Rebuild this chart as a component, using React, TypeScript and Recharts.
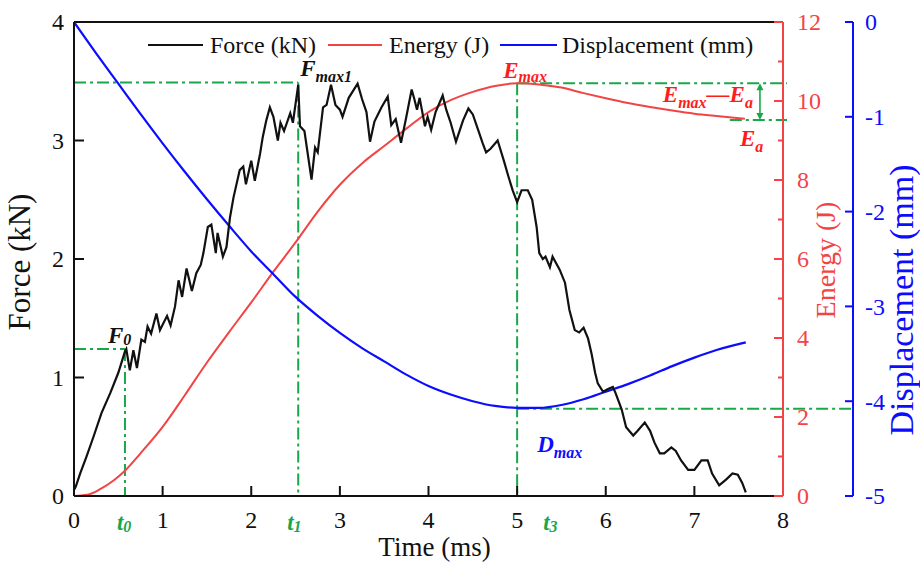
import React from 'react';
import { LineChart, Line, XAxis, YAxis, ReferenceLine, ReferenceDot, Legend } from 'recharts';

// ---------- data ----------
const timeForce = [
  0, 0.02, 0.07, 0.14, 0.22, 0.31, 0.41, 0.5, 0.575, 0.59,
  0.63, 0.67, 0.71, 0.76, 0.8, 0.83, 0.87, 0.93, 0.97, 1.05,
  1.09, 1.14, 1.18, 1.22, 1.27, 1.33, 1.38, 1.43, 1.46, 1.51,
  1.55, 1.6, 1.62, 1.68, 1.72, 1.76, 1.8, 1.87, 1.91, 1.94,
  2.0, 2.04, 2.1, 2.13, 2.17, 2.21, 2.25, 2.3, 2.33, 2.37,
  2.44, 2.47, 2.53, 2.55, 2.6, 2.68, 2.72, 2.75, 2.81, 2.85,
  2.9, 2.95, 3.0, 3.03, 3.1, 3.2, 3.25, 3.3, 3.34, 3.39,
  3.47, 3.54, 3.58, 3.63, 3.69, 3.75, 3.81, 3.84, 3.87, 3.9,
  3.96, 3.99, 4.03, 4.08, 4.16, 4.2, 4.25, 4.31, 4.39, 4.45,
  4.5, 4.56, 4.61, 4.65, 4.7, 4.78, 4.85, 4.9, 4.95, 5.0,
  5.05, 5.12, 5.17, 5.22, 5.25, 5.29, 5.32, 5.37, 5.4, 5.48,
  5.54, 5.59, 5.65, 5.7, 5.75, 5.8, 5.84, 5.88, 5.91, 5.97,
  6.02, 6.08, 6.11, 6.18, 6.23, 6.31, 6.36, 6.44, 6.5, 6.55,
  6.61, 6.66, 6.74, 6.79, 6.85, 6.93, 7.0, 7.08, 7.15, 7.2,
  7.28, 7.36, 7.43, 7.49, 7.54, 7.58,
];
const forceKN = [
  0.05, 0.08, 0.19, 0.33, 0.5, 0.7, 0.87, 1.04, 1.22, 1.24,
  1.06, 1.23, 1.08, 1.32, 1.3, 1.43, 1.37, 1.54, 1.4, 1.52,
  1.44, 1.6, 1.82, 1.68, 1.92, 1.73, 1.88, 1.95, 2.05, 2.27,
  2.29, 2.05, 2.22, 2.02, 2.1, 2.35, 2.52, 2.75, 2.78, 2.63,
  2.83, 2.66, 2.89, 3.03, 3.17, 3.28, 3.2, 3.0, 3.15, 3.08,
  3.23, 3.15, 3.47, 3.12, 3.08, 2.67, 2.94, 2.9, 3.28, 3.3,
  3.47, 3.3, 3.26, 3.2, 3.36, 3.48, 3.35, 3.24, 2.99, 3.16,
  3.28, 3.37, 3.13, 3.18, 2.98, 3.2, 3.43, 3.35, 3.26, 3.36,
  3.12, 3.2, 3.09, 3.24, 3.38, 3.26, 3.15, 2.99, 3.17, 3.27,
  3.22, 3.09, 2.98, 2.9, 2.93, 3.0, 2.83, 2.7, 2.58, 2.48,
  2.58, 2.58, 2.5, 2.27, 2.05, 2.0, 2.02, 1.93, 2.02, 1.91,
  1.8, 1.57, 1.4, 1.38, 1.42, 1.33, 1.2, 1.04, 0.95, 0.88,
  0.9, 0.92, 0.87, 0.73, 0.58, 0.51, 0.55, 0.62, 0.55, 0.45,
  0.36, 0.36, 0.41, 0.38, 0.3, 0.22, 0.22, 0.3, 0.3, 0.19,
  0.09, 0.14, 0.19, 0.18, 0.11, 0.03,
];

const timeEnergy = [0, 0.15, 0.3, 0.45, 0.575, 0.75, 1.0, 1.25, 1.5, 1.75, 2.0, 2.25, 2.5, 2.75, 3.0, 3.25, 3.5, 3.75, 4.0, 4.25, 4.5, 4.75, 5.0, 5.25, 5.5, 5.75, 6.0, 6.25, 6.5, 6.75, 7.0, 7.25, 7.57];
const energyJ = [0, 0.03, 0.18, 0.4, 0.64, 1.08, 1.75, 2.55, 3.38, 4.15, 4.9, 5.68, 6.42, 7.2, 7.88, 8.42, 8.86, 9.3, 9.72, 10.02, 10.23, 10.38, 10.45, 10.42, 10.34, 10.2, 10.07, 9.95, 9.85, 9.76, 9.68, 9.62, 9.55];

const timeDisp = [0, 0.25, 0.5, 0.75, 1.0, 1.25, 1.5, 1.75, 2.0, 2.25, 2.5, 2.75, 3.0, 3.25, 3.5, 3.75, 4.0, 4.25, 4.5, 4.75, 5.0, 5.25, 5.5, 5.75, 6.0, 6.25, 6.5, 6.75, 7.0, 7.25, 7.58];
const dispMM = [0, -0.33, -0.65, -0.97, -1.28, -1.58, -1.87, -2.15, -2.42, -2.66, -2.9, -3.1, -3.28, -3.44, -3.58, -3.72, -3.84, -3.93, -4.0, -4.05, -4.07, -4.07, -4.04, -3.98, -3.9, -3.82, -3.73, -3.63, -3.54, -3.46, -3.38];

const seriesNames = ['Force (kN)', 'Energy (J)', 'Displacement (mm)'];
const timeTicks = [0, 1, 2, 3, 4, 5, 6, 7, 8];
const forceTicks = [0, 1, 2, 3, 4];
const energyTicks = [0, 1, 2, 3, 4, 5, 6, 7, 8, 9, 10, 11, 12];
const dispTicks = [-5, -4, -3, -2, -1, 0];

// key characteristic values
const tF0 = 0.575;
const F0 = 1.24;
const tFmax1 = 2.53;
const Fmax1 = 3.49;
const tEmax = 5.0;
const Emax = 10.45;
const Ea = 9.52;
const Dmax = -4.08;
const tArrow = 7.74;
const tEaStart = 7.4;

const forceData = timeForce.map((t, i) => ({ t, v: forceKN[i] }));
const energyData = timeEnergy.map((t, i) => ({ t, v: energyJ[i] }));
const dispData = timeDisp.map((t, i) => ({ t, v: dispMM[i] }));

// axis ids (energy axis sits next to the plot, displacement outside it)
const AX_F = 'force';
const AX_E = 'axisA_energy';
const AX_D = 'axisB_disp';

// ---------- styles ----------
const SERIF = '"Liberation Serif", "Times New Roman", Times, serif';
const BLACK = '#111111';
const RED = '#f24444';
const RED_TEXT = '#ff1c1c';
const BLUE = '#0c0cff';
const GREEN = '#18a84a';
const DASH = '12 4 3 4';

const W = 920;
const H = 568;
const M = { top: 22, right: 7, bottom: 12, left: 0 };
const Y_FORCE_W = 74;
const Y_ENERGY_W = 70;
const Y_DISP_W = 60;
const X_H = 60;
const PLOT_L = M.left + Y_FORCE_W;
const PLOT_R = W - M.right - Y_DISP_W - Y_ENERGY_W;
const PLOT_B = H - M.bottom - X_H;

const TM_L = 10;
const TM_B = 15;
const TM_E = 14;
const TM_D = 12;
const TICK_FS = 24;

// ---------- ticks (pointing inward) ----------
const ForceTick = (p: any) => {
  const { x, y, payload } = p;
  const v = payload.value;
  const ax = x + TM_L;
  return (
    <g>
      {v > 0 && v < 4 && <line x1={ax} x2={ax + 10} y1={y} y2={y} stroke={BLACK} strokeWidth={2} />}
      <text x={x} y={y} dy="0.35em" textAnchor="end" fontFamily={SERIF} fontSize={TICK_FS} fill={BLACK}>{v}</text>
    </g>
  );
};

const TimeTick = (p: any) => {
  const { x, y, payload } = p;
  const v = payload.value;
  const ay = y - TM_B;
  return (
    <g>
      {v > 0 && v < 8 && <line x1={x} x2={x} y1={ay} y2={ay - 10} stroke={BLACK} strokeWidth={2} />}
      <text x={x} y={y} dy="0.71em" textAnchor="middle" fontFamily={SERIF} fontSize={TICK_FS} fill={BLACK}>{v}</text>
    </g>
  );
};

const EnergyTick = (p: any) => {
  const { x, y, payload } = p;
  const v = payload.value;
  const ax = x - TM_E;
  const major = v % 2 === 0;
  return (
    <g>
      <line x1={ax} x2={ax - (major ? 9 : 5)} y1={y} y2={y} stroke={RED} strokeWidth={2} />
      {major && (
        <text x={x} y={y} dy="0.35em" textAnchor="start" fontFamily={SERIF} fontSize={TICK_FS} fill={RED}>{v}</text>
      )}
    </g>
  );
};

const DispTick = (p: any) => {
  const { x, y, payload } = p;
  const v = payload.value;
  const ax = x - TM_D;
  return (
    <g>
      <line x1={ax} x2={ax - 8} y1={y} y2={y} stroke={BLUE} strokeWidth={2} />
      <text x={x} y={y} dy="0.35em" textAnchor="start" fontFamily={SERIF} fontSize={TICK_FS} fill={BLUE}>{v}</text>
    </g>
  );
};

// ---------- annotation text ----------
type Part = { t: string; sub?: boolean };
const Anno = (props: {
  cx: number; cy: number; dx: number; dy: number; parts: Part[]; color: string;
  anchor?: 'start' | 'middle' | 'end'; size?: number; subSize?: number; shift?: number;
}) => {
  const { cx, cy, dx, dy, parts, color, anchor = 'start', size = 23, subSize = 16, shift = 6 } = props;
  let prevSub = false;
  return (
    <text x={cx + dx} y={cy + dy} fill={color} fontFamily={SERIF} fontWeight="bold" fontStyle="italic"
      fontSize={size} textAnchor={anchor}>
      {parts.map((pt, i) => {
        const d = pt.sub ? (prevSub ? 0 : shift) : (prevSub ? -shift : 0);
        prevSub = !!pt.sub;
        return (
          <tspan key={i} dy={d} fontSize={pt.sub ? subSize : size}>{pt.t}</tspan>
        );
      })}
    </text>
  );
};

const annoShape = (dx: number, dy: number, parts: Part[], color: string, anchor: 'start' | 'middle' | 'end' = 'start', shift = 6) =>
  (p: any) => <Anno cx={p.cx} cy={p.cy} dx={dx} dy={dy} parts={parts} color={color} anchor={anchor} shift={shift} />;

const extLine = (extra: number) => (p: any) => (
  <line x1={p.x1} y1={p.y1} x2={p.x2 + extra} y2={p.y2} stroke={GREEN} strokeWidth={2} strokeDasharray={DASH} />
);

const DoubleArrow = (p: any) => {
  const x = p.x1;
  const yTop = Math.min(p.y1, p.y2);
  const yBot = Math.max(p.y1, p.y2);
  const hw = 3.5;
  const hh = 7;
  return (
    <g>
      <line x1={x} x2={x} y1={yTop + 2} y2={yBot - 2} stroke={GREEN} strokeWidth={1.6} />
      <path d={`M${x},${yTop} L${x - hw},${yTop + hh} L${x + hw},${yTop + hh} Z`} fill={GREEN} />
      <path d={`M${x},${yBot} L${x - hw},${yBot - hh} L${x + hw},${yBot - hh} Z`} fill={GREEN} />
    </g>
  );
};

// ---------- legend ----------
const LegendBox = () => {
  const colors = [BLACK, RED, BLUE];
  const lineStart = [8, 188, 360];
  const lineLen = [55, 54, 57];
  const textStart = [70, 249, 422];
  return (
    <svg width={640} height={34} style={{ display: 'block', overflow: 'visible' }}>
      {seriesNames.map((n, i) => (
        <g key={n}>
          <line x1={lineStart[i]} x2={lineStart[i] + lineLen[i]} y1={19} y2={19} stroke={colors[i]} strokeWidth={2.2} />
          <text x={textStart[i]} y={27} fontFamily={SERIF} fontSize={24} fill={BLACK}>{n}</text>
        </g>
      ))}
    </svg>
  );
};

// ---------- axis titles ----------
const ForceTitle = () => (
  <text transform={`translate(${PLOT_L - 44},${262}) rotate(-90)`} textAnchor="middle" fontFamily={SERIF} fontSize={31} fill={BLACK}>Force (kN)</text>
);
const EnergyTitle = () => (
  <text transform={`translate(${PLOT_R + 52},${260}) rotate(-90)`} textAnchor="middle" fontFamily={SERIF} fontSize={28} fill={RED}>Energy (J)</text>
);
const DispTitle = () => (
  <text transform={`translate(${PLOT_R + Y_ENERGY_W + 60},${300}) rotate(-90)`} textAnchor="middle" fontFamily={SERIF} fontSize={34} fill={BLUE}>Displacement (mm)</text>
);
const TimeTitle = () => (
  <text x={(PLOT_L + PLOT_R) / 2 + 6} y={PLOT_B + 60} textAnchor="middle" fontFamily={SERIF} fontSize={27} fill={BLACK}>Time (ms)</text>
);

export default function App() {
  return (
    <div style={{ position: 'absolute', left: 0, top: 0, width: W, height: H, background: '#fff' }}>
      <LineChart width={W} height={H} margin={M}>
        <XAxis dataKey="t" type="number" domain={[0, 8]} ticks={timeTicks} interval={0} allowDataOverflow
          height={X_H} tickSize={0} tickMargin={TM_B} tickLine={false}
          axisLine={{ stroke: BLACK, strokeWidth: 2 }} tick={TimeTick} label={TimeTitle} />
        <YAxis yAxisId={AX_F} orientation="left" domain={[0, 4]} ticks={forceTicks} interval={0} allowDataOverflow
          width={Y_FORCE_W} tickSize={0} tickMargin={TM_L} tickLine={false}
          axisLine={{ stroke: BLACK, strokeWidth: 2 }} tick={ForceTick} label={ForceTitle} />
        <YAxis yAxisId={AX_E} orientation="right" domain={[0, 12]} ticks={energyTicks} interval={0} allowDataOverflow
          width={Y_ENERGY_W} tickSize={0} tickMargin={TM_E} tickLine={false}
          axisLine={{ stroke: RED, strokeWidth: 2 }} tick={EnergyTick} label={EnergyTitle} />
        <YAxis yAxisId={AX_D} orientation="right" domain={[-5, 0]} ticks={dispTicks} interval={0} allowDataOverflow
          width={Y_DISP_W} tickSize={0} tickMargin={TM_D} tickLine={false}
          axisLine={{ stroke: BLUE, strokeWidth: 2 }} tick={DispTick} label={DispTitle} />

        {/* top frame */}
        <ReferenceLine yAxisId={AX_F} y={4} stroke={BLACK} strokeWidth={2} />

        {/* green guide lines */}
        <ReferenceLine yAxisId={AX_F} ifOverflow="visible" segment={[{ x: 0, y: F0 }, { x: tF0, y: F0 }]} stroke={GREEN} strokeWidth={2} strokeDasharray={DASH} />
        <ReferenceLine yAxisId={AX_F} ifOverflow="visible" segment={[{ x: tF0, y: F0 }, { x: tF0, y: 0 }]} stroke={GREEN} strokeWidth={2} strokeDasharray={DASH} />
        <ReferenceLine yAxisId={AX_F} ifOverflow="visible" segment={[{ x: 0, y: Fmax1 }, { x: tFmax1, y: Fmax1 }]} stroke={GREEN} strokeWidth={2} strokeDasharray={DASH} />
        <ReferenceLine yAxisId={AX_F} ifOverflow="visible" segment={[{ x: tFmax1, y: Fmax1 }, { x: tFmax1, y: 0 }]} stroke={GREEN} strokeWidth={2} strokeDasharray={DASH} />
        <ReferenceLine yAxisId={AX_E} ifOverflow="visible" segment={[{ x: tEmax, y: Emax }, { x: 8, y: Emax }]} shape={extLine(4)} />
        <ReferenceLine yAxisId={AX_E} ifOverflow="visible" segment={[{ x: tEmax, y: Emax }, { x: tEmax, y: 0 }]} stroke={GREEN} strokeWidth={2} strokeDasharray={DASH} />
        <ReferenceLine yAxisId={AX_E} ifOverflow="visible" segment={[{ x: tEaStart, y: Ea }, { x: 8, y: Ea }]} shape={extLine(4)} />
        <ReferenceLine yAxisId={AX_E} ifOverflow="visible" segment={[{ x: tArrow, y: Emax }, { x: tArrow, y: Ea }]} shape={DoubleArrow} />
        <ReferenceLine yAxisId={AX_D} ifOverflow="visible" segment={[{ x: tEmax, y: Dmax }, { x: 8, y: Dmax }]} shape={extLine(Y_ENERGY_W)} />

        {/* series */}
        <Line data={energyData} dataKey="v" yAxisId={AX_E} type="monotone" stroke={RED} strokeWidth={2} dot={false} activeDot={false} isAnimationActive={false} />
        <Line data={dispData} dataKey="v" yAxisId={AX_D} type="monotone" stroke={BLUE} strokeWidth={2.2} dot={false} activeDot={false} isAnimationActive={false} />
        <Line data={forceData} dataKey="v" yAxisId={AX_F} type="linear" stroke={BLACK} strokeWidth={2.2} dot={false} activeDot={false} isAnimationActive={false} />

        {/* annotations */}
        <ReferenceDot yAxisId={AX_F} x={tF0} y={F0} ifOverflow="visible" shape={annoShape(-17, -6, [{ t: 'F' }, { t: '0', sub: true }], BLACK, 'start', 2)} />
        <ReferenceDot yAxisId={AX_F} x={tFmax1} y={Fmax1} ifOverflow="visible" shape={annoShape(2, -6, [{ t: 'F' }, { t: 'max1', sub: true }], BLACK)} />
        <ReferenceDot yAxisId={AX_E} x={tEmax} y={Emax} ifOverflow="visible" shape={annoShape(-14, -5, [{ t: 'E' }, { t: 'max', sub: true }], RED_TEXT, 'start', 4)} />
        <ReferenceDot yAxisId={AX_E} x={tArrow} y={Emax} ifOverflow="visible" shape={annoShape(-7, 19, [{ t: 'E' }, { t: 'max', sub: true }, { t: '—E' }, { t: 'a', sub: true }], RED_TEXT, 'end', 6)} />
        <ReferenceDot yAxisId={AX_E} x={tArrow} y={Ea} ifOverflow="visible" shape={annoShape(-20, 26, [{ t: 'E' }, { t: 'a', sub: true }], RED_TEXT)} />
        <ReferenceDot yAxisId={AX_D} x={tEmax} y={Dmax} ifOverflow="visible" shape={annoShape(20, 43, [{ t: 'D' }, { t: 'max', sub: true }], BLUE)} />
        <ReferenceDot yAxisId={AX_F} x={tF0} y={0} ifOverflow="visible" shape={annoShape(-8, 34, [{ t: 't' }, { t: '0', sub: true }], GREEN, 'start', 2)} />
        <ReferenceDot yAxisId={AX_F} x={tFmax1} y={0} ifOverflow="visible" shape={annoShape(-11, 34, [{ t: 't' }, { t: '1', sub: true }], GREEN, 'start', 2)} />
        <ReferenceDot yAxisId={AX_F} x={tEmax} y={0} ifOverflow="visible" shape={annoShape(26, 34, [{ t: 't' }, { t: '3', sub: true }], GREEN, 'start', 2)} />

        <Legend verticalAlign="middle" align="center" layout="horizontal"
          wrapperStyle={{ left: 140, top: 26, width: 640, height: 34 }}
          content={() => <LegendBox />} />
      </LineChart>
    </div>
  );
}
